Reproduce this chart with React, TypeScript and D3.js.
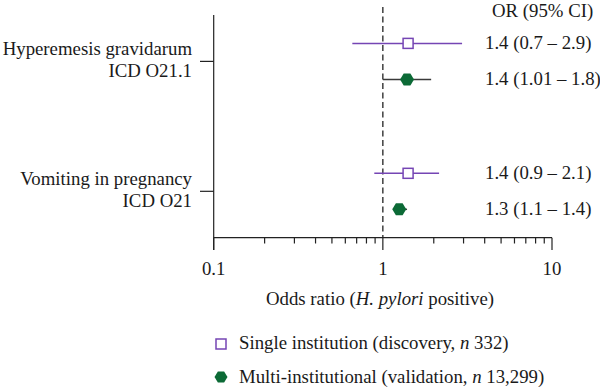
import React, { useEffect, useRef } from 'react';
import * as d3 from 'd3';

const categories = ['Hyperemesis gravidarum|ICD O21.1', 'Vomiting in pregnancy|ICD O21'];
const series = ['single', 'multi'];

// plotted values: [OR, lo, hi] per category
const singleVals = [[1.41, 0.66, 2.94], [1.41, 0.89, 2.15]];
const multiVals = [[1.39, 1.0, 1.93], [1.25, 1.15, 1.39]];
const singleLabels = ['1.4 (0.7 – 2.9)', '1.4 (0.9 – 2.1)'];
const multiLabels = ['1.4 (1.01 – 1.8)', '1.3 (1.1 – 1.4)'];
const xTicks = [0.1, 1, 10];
const xTickLabels = ['0.1', '1', '10'];

const purple = '#7545b4';
const green = '#0c6a36';
const font = 'Liberation Serif, Times New Roman, serif';
const fs = 18.8;

const hexPath = (w: number, h: number) => {
  const a = w / 2, b = h / 2, c = w * 0.24;
  return `M${-a},0L${-c},${-b}L${c},${-b}L${a},0L${c},${b}L${-c},${b}Z`;
};

const App = () => {
  const ref = useRef<SVGSVGElement>(null);

  useEffect(() => {
    document.body.style.margin = '0';
    const svg = d3.select(ref.current);
    svg.selectAll('*').remove();

    const x = d3.scaleLog().domain([0.1, 10]).range([213.7, 552]);
    const y = d3.scalePoint().domain(categories).range([15, 237.7]).padding(0.357);
    const off = 18;

    const g = svg.append('g').attr('font-family', font).attr('fill', '#1a1a1a');

    // dashed reference line at OR = 1
    g.append('line')
      .attr('x1', x(1)).attr('x2', x(1))
      .attr('y1', 7).attr('y2', 237.7)
      .attr('stroke', '#222').attr('stroke-width', 1.3)
      .attr('stroke-dasharray', '6,3.5');

    // y axis
    g.append('line')
      .attr('x1', 213.7).attr('x2', 213.7).attr('y1', 15).attr('y2', 250)
      .attr('stroke', '#222').attr('stroke-width', 1.2);
    categories.forEach(c => {
      const yy = y(c)!;
      g.append('line')
        .attr('x1', 200).attr('x2', 213.7).attr('y1', yy).attr('y2', yy)
        .attr('stroke', '#222').attr('stroke-width', 1.2);
      const [l1, l2] = c.split('|');
      const t = g.append('text').attr('text-anchor', 'end').attr('font-size', fs);
      t.append('tspan').attr('x', 192).attr('y', yy - 6).text(l1);
      t.append('tspan').attr('x', 192).attr('y', yy + 16).text(l2);
    });

    // x axis
    g.append('line')
      .attr('x1', 213.7).attr('x2', 552).attr('y1', 237.7).attr('y2', 237.7)
      .attr('stroke', '#222').attr('stroke-width', 1.2);
    const minor = d3.range(2, 10).flatMap(k => [k * 0.1, k]);
    g.selectAll('line.minor').data(minor).join('line')
      .attr('class', 'minor')
      .attr('x1', d => x(d)).attr('x2', d => x(d))
      .attr('y1', 237.7).attr('y2', 243.5)
      .attr('stroke', '#222').attr('stroke-width', 1.2);
    g.selectAll('line.major').data(xTicks).join('line')
      .attr('class', 'major')
      .attr('x1', d => x(d)).attr('x2', d => x(d))
      .attr('y1', 237.7).attr('y2', 250)
      .attr('stroke', '#222').attr('stroke-width', 1.2);
    g.selectAll('text.tick').data(xTicks).join('text')
      .attr('class', 'tick')
      .attr('x', d => x(d)).attr('y', 275)
      .attr('text-anchor', 'middle').attr('font-size', fs)
      .text((d, i) => xTickLabels[i]);

    const title = g.append('text').attr('x', 380).attr('y', 305)
      .attr('text-anchor', 'middle').attr('font-size', fs);
    title.append('tspan').text('Odds ratio (');
    title.append('tspan').attr('font-style', 'italic').text('H. pylori');
    title.append('tspan').text(' positive)');

    // header
    g.append('text').attr('x', 492).attr('y', 17).attr('font-size', fs).text('OR (95% CI)');

    // estimates
    series.forEach(s => {
      const vals = s === 'single' ? singleVals : multiVals;
      const labels = s === 'single' ? singleLabels : multiLabels;
      const dy = s === 'single' ? -off : off;
      vals.forEach((v, i) => {
        const yy = y(categories[i])! + dy;
        g.append('line')
          .attr('x1', x(v[1])).attr('x2', x(v[2])).attr('y1', yy).attr('y2', yy)
          .attr('stroke', s === 'single' ? purple : '#3a3a3a').attr('stroke-width', 1.5);
        if (s === 'single') {
          g.append('rect')
            .attr('x', x(v[0]) - 5).attr('y', yy - 5).attr('width', 10).attr('height', 10)
            .attr('fill', '#fff').attr('stroke', purple).attr('stroke-width', 1.5);
        } else {
          g.append('path')
            .attr('transform', `translate(${x(v[0])},${yy})`)
            .attr('d', hexPath(14, 12)).attr('fill', green);
        }
        g.append('text').attr('x', 485).attr('y', yy + 6).attr('font-size', fs).text(labels[i]);
      });
    });

    // legend
    g.append('rect').attr('x', 216).attr('y', 339).attr('width', 10).attr('height', 10)
      .attr('fill', '#fff').attr('stroke', purple).attr('stroke-width', 1.5);
    const l1 = g.append('text').attr('x', 239).attr('y', 349).attr('font-size', fs);
    l1.append('tspan').text('Single institution (discovery, ');
    l1.append('tspan').attr('font-style', 'italic').text('n');
    l1.append('tspan').text(' 332)');
    g.append('path').attr('transform', 'translate(221,377)').attr('d', hexPath(13, 11)).attr('fill', green);
    const l2 = g.append('text').attr('x', 239).attr('y', 383).attr('font-size', fs);
    l2.append('tspan').text('Multi-institutional (validation, ');
    l2.append('tspan').attr('font-style', 'italic').text('n');
    l2.append('tspan').text(' 13,299)');
  }, []);

  return <svg ref={ref} width={600} height={388} style={{ display: 'block', background: '#fff' }}></svg>;
};

export default App;
